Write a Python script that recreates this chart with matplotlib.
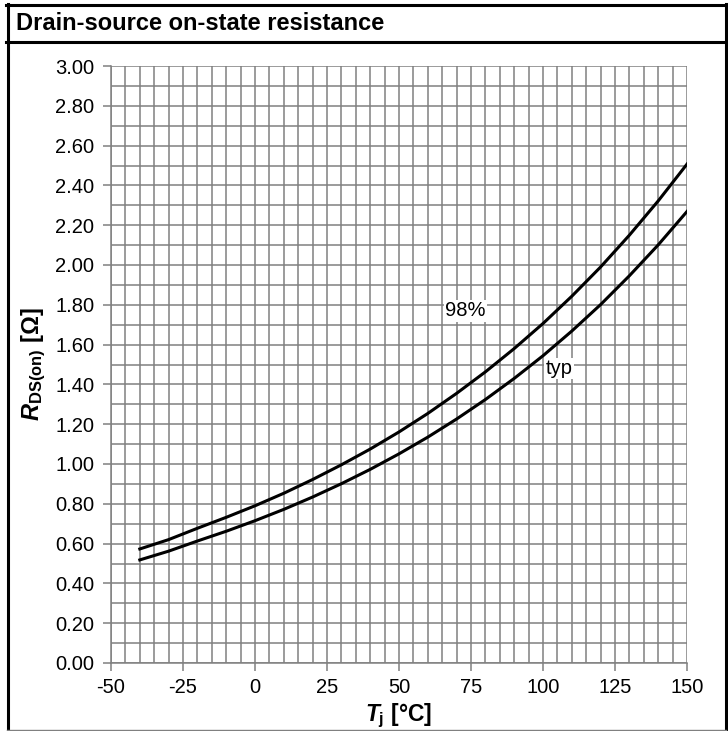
import matplotlib
matplotlib.use('Agg')
import matplotlib.pyplot as plt
from matplotlib.lines import Line2D

plt.rcParams['font.family'] = ['Liberation Sans', 'DejaVu Sans']
plt.rcParams['mathtext.fontset'] = 'custom'
plt.rcParams['mathtext.rm'] = 'Liberation Sans:bold'
plt.rcParams['mathtext.it'] = 'Liberation Sans:bold:italic'
plt.rcParams['mathtext.bf'] = 'Liberation Sans:bold'

# data
temps = [-40, -30, -20, -10, 0, 10, 20, 30, 40, 50, 60, 70, 80, 90, 100, 110, 120, 130, 140, 150]
r_typ = [0.518, 0.562, 0.613, 0.662, 0.715, 0.772, 0.834, 0.901, 0.973, 1.051,
         1.135, 1.226, 1.324, 1.430, 1.544, 1.668, 1.801, 1.946, 2.101, 2.269]
r_98 = [0.573, 0.620, 0.677, 0.732, 0.790, 0.853, 0.922, 0.996, 1.075, 1.161,
        1.254, 1.355, 1.463, 1.580, 1.706, 1.843, 1.990, 2.150, 2.322, 2.507]
x_ticks = [-50, -25, 0, 25, 50, 75, 100, 125, 150]
y_ticks = [0.0, 0.2, 0.4, 0.6, 0.8, 1.0, 1.2, 1.4, 1.6, 1.8, 2.0, 2.2, 2.4, 2.6, 2.8, 3.0]

fig = plt.figure(figsize=(7.28, 7.31), dpi=100)
W, H = 728, 731

# frame around the chart
def fline(x0, y0, x1, y1, color='black', lw=2.2):
    fig.add_artist(Line2D([x0 / W, x1 / W], [1 - y0 / H, 1 - y1 / H],
                          color=color, lw=lw, transform=fig.transFigure))

fline(6, 5, 726, 5)
fline(6, 42, 726, 42)
fline(7.5, 4, 7.5, 731)
fline(725.5, 4, 725.5, 731)
fline(7, 729.5, 726, 729.5, color='#808080', lw=1.0)

fig.text(16 / W, 1 - 24 / H, 'Drain-source on-state resistance',
         fontsize=17, fontweight='bold', va='center', ha='left')

ax = fig.add_axes([111 / W, 1 - 663 / H, 576 / W, 597 / H])
ax.set_xlim(-50, 150)
ax.set_ylim(0, 3.0)

# grid
for x in range(-50, 151, 5):
    ax.axvline(x, color='#808080', lw=1.1, zorder=1)
for i in range(0, 31):
    ax.axhline(i * 0.1, color='#808080', lw=1.1, zorder=1)

ax.plot(temps, r_98, color='black', lw=2.2, zorder=3)
ax.plot(temps, r_typ, color='black', lw=2.2, zorder=3)

ax.text(73, 1.77, '98%', fontsize=14.5, ha='center', va='center', zorder=4,
        bbox=dict(facecolor='white', edgecolor='none', pad=1))
ax.text(105.5, 1.48, 'typ', fontsize=14.5, ha='center', va='center', zorder=4,
        bbox=dict(facecolor='white', edgecolor='none', pad=1))

ax.set_xticks(x_ticks)
ax.set_xticklabels([str(t) for t in x_ticks])
ax.set_yticks(y_ticks)
ax.set_yticklabels(['%.2f' % v for v in y_ticks])
ax.tick_params(direction='out', length=6, width=1.1, color='#808080',
               labelsize=14.5)
ax.tick_params(axis='y', pad=6)
ax.tick_params(axis='x', pad=5)

for s in ['top', 'right']:
    ax.spines[s].set_visible(False)
for s in ['left', 'bottom']:
    ax.spines[s].set_color('#808080')
    ax.spines[s].set_linewidth(1.1)

ax.set_xlabel(r'$T_{\mathrm{j}}$ [°C]', fontsize=16.5, fontweight='bold', labelpad=3)
ax.set_ylabel(r'$R_{\mathrm{DS(on)}}$ [$\Omega$]', fontsize=17, fontweight='bold', labelpad=5)

fig.savefig('out.png', dpi=100)
